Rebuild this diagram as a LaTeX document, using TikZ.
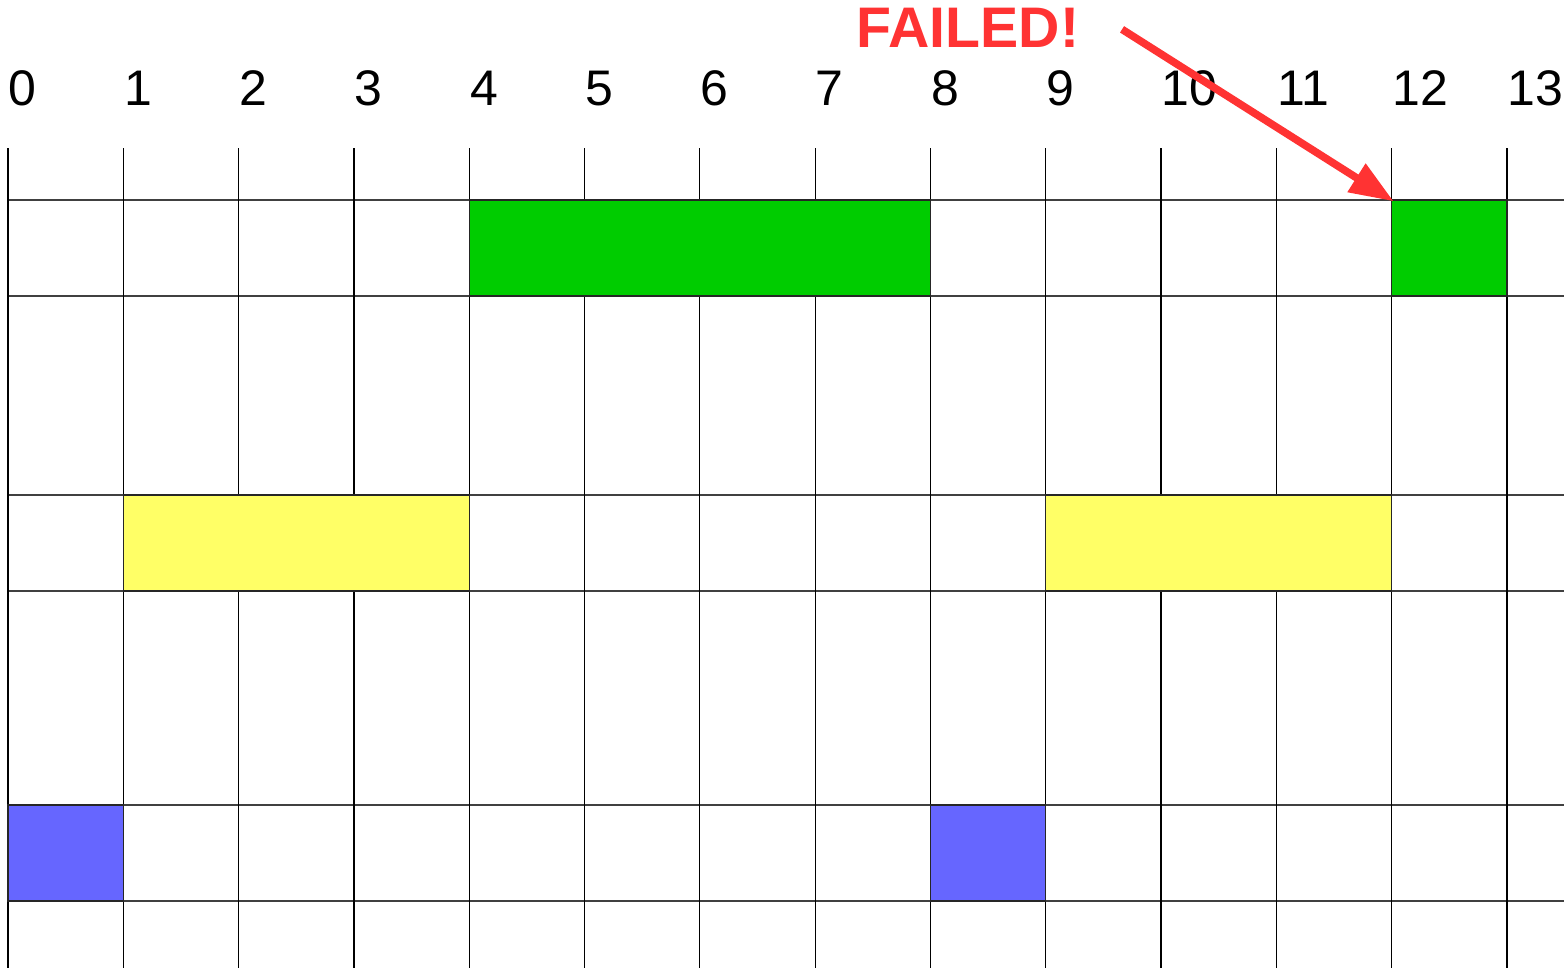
\documentclass[tikz,border=0pt]{standalone}
\usepackage{fontspec}
\setmainfont{Liberation Sans}
\usepackage{tikz}
\usetikzlibrary{arrows.meta, positioning}
\definecolor{okgreen}{HTML}{00CC00}
\definecolor{waityellow}{HTML}{FFFF66}
\definecolor{idleblue}{HTML}{6666FF}
\definecolor{failred}{HTML}{FF3333}

\begin{document}
\begin{tikzpicture}[
    x=0.25pt, y=-0.25pt,
    gridline/.style  = {line width=0.3pt, color=black},
    rowline/.style   = {line width=0.3pt, color=black!75},
    slot/.style      = {draw=black!85, line width=0.3pt},
    greenslot/.style = {slot, fill=okgreen},
    yellowslot/.style= {slot, fill=waityellow},
    blueslot/.style  = {slot, fill=idleblue},
    tick/.style      = {anchor=base west, inner sep=0pt,
                        font=\fontsize{12.5}{15}\selectfont},
    faillbl/.style   = {anchor=base west, inner sep=0pt, text=failred,
                        font=\fontsize{14.3}{17}\selectfont\bfseries},
    failarr/.style   = {-{Triangle[length=11pt, width=8pt]}, line width=1.9pt,
                        color=failred, shorten >=-0.6pt}
  ]
  \useasboundingbox (0,0) rectangle (1564,968);

  % ── Grid ───────────────────────────────────────────────────────────────────
  \foreach \y in {200,296,495,591,805,901}
    \draw[rowline] (8,\y) -- (1564,\y);
  \foreach \i in {0,...,13} {
    \draw[gridline] ({8+115.3*\i},148) -- ({8+115.3*\i},968);
    \node[tick] (col\i) at ({8+115.3*\i},105) {\i};
  }

  % ── Coloured slots ─────────────────────────────────────────────────────────
  \draw[greenslot]  (469.2,200) rectangle (930.4,296);
  \draw[greenslot]  (1391.6,200) rectangle (1506.9,296);
  \draw[yellowslot] (123.3,495) rectangle (469.2,591);
  \draw[yellowslot] (1045.7,495) rectangle (1391.6,591);
  \draw[blueslot]   (8,805) rectangle (123.3,901);
  \draw[blueslot]   (930.4,805) rectangle (1045.7,901);

  % ── Failure marker ─────────────────────────────────────────────────────────
  \coordinate (target) at (1391.6,200);
  \node[faillbl] (failed) at (856,47) {FAILED!};
  \draw[failarr] ([xshift=10.5pt, yshift=-0.5pt]failed.east) -- (target);

\end{tikzpicture}
\end{document}
